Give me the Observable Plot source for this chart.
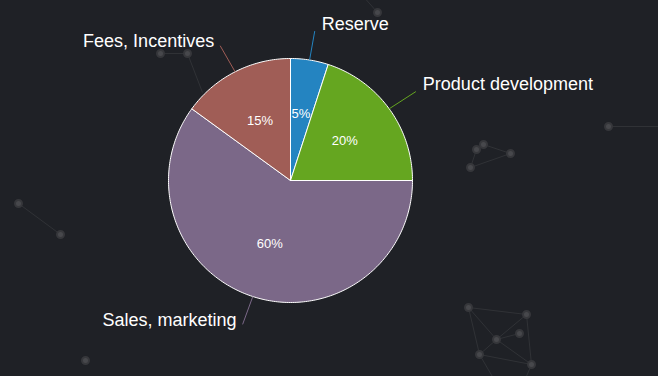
<!DOCTYPE html>
<html><head><meta charset="utf-8">
<script src="https://cdn.jsdelivr.net/npm/d3@7"></script>
<script src="https://cdn.jsdelivr.net/npm/@observablehq/plot@0.6"></script>
<style>
html,body{margin:0;padding:0;background:#1f2126;overflow:hidden;}
#chart svg{display:block;}
</style></head><body><div id="chart"></div>
<script>
// ---- chart data ----
const labels = ["Reserve", "Product development", "Sales, marketing", "Fees, Incentives"];
const values = [5, 20, 60, 15];
const colors = ["#2484c1", "#65a620", "#7b6888", "#a05d56"];

// ---- decorative background network (pixel coordinates) ----
const nodeX = [160, 187, 18, 60, 85, 608, 476, 483, 510, 470, 468, 526, 519, 496, 479, 531, 377];
const nodeY = [53, 53, 203, 234, 360, 126, 149, 144, 153, 167, 307, 314, 333, 339, 354, 364, 12];
const linkFrom = [[160,53],[187,53],[18,203],[608,126],[483,144],[470,167],[476,149],[468,307],[468,307],[468,307],[526,314],[526,314],[519,333],[496,339],[496,339],[479,354],[479,354],[531,364],[377,12]];
const linkTo   = [[187,53],[202,92],[60,234],[670,126],[510,153],[510,153],[470,167],[526,314],[479,354],[496,339],[496,339],[531,364],[496,339],[479,354],[531,364],[531,364],[500,390],[520,390],[362,-5]];

// ---- layout ----
const W = 658, H = 376, cx = 290, cy = 180, R = 122;
const toX = px => (px - cx) / R, toY = py => (cy - py) / R;

const arcs = d3.pie().sort(null)(values);

// slice outlines computed from pie angles
const slicePts = [];
arcs.forEach((a, i) => {
  slicePts.push({i, x: 0, y: 0, c: colors[i]});
  const n = Math.max(2, Math.ceil((a.endAngle - a.startAngle) / (Math.PI / 180)));
  for (let k = 0; k <= n; k++) {
    const t = a.startAngle + (a.endAngle - a.startAngle) * k / n;
    slicePts.push({i, x: Math.sin(t), y: Math.cos(t), c: colors[i]});
  }
  slicePts.push({i, x: 0, y: 0, c: colors[i]});
});

const mids = arcs.map((a, i) => {
  const m = (a.startAngle + a.endAngle) / 2;
  return {i, m, label: labels[i], pct: values[i] + "%", c: colors[i],
          ix: 0.55 * Math.sin(m), iy: 0.55 * Math.cos(m),
          x1: Math.sin(m), y1: Math.cos(m),
          x2: 1.27 * Math.sin(m), y2: 1.24 * Math.cos(m),
          right: Math.sin(m) >= 0};
});

const links = linkFrom.map((f, k) => ({x1: toX(f[0]), y1: toY(f[1]), x2: toX(linkTo[k][0]), y2: toY(linkTo[k][1])}));
const nodes = nodeX.map((x, k) => ({x: toX(x), y: toY(nodeY[k])}));

const font = "Arial, 'Liberation Sans', Helvetica, sans-serif";

const chart = Plot.plot({
  width: W, height: H,
  margin: 0,
  x: {domain: [-cx / R, (W - cx) / R], axis: null},
  y: {domain: [-(H - cy) / R, cy / R], axis: null},
  color: {type: "identity"},
  style: {background: "#1f2126", fontFamily: font, overflow: "hidden"},
  marks: [
    Plot.link(links, {x1: "x1", y1: "y1", x2: "x2", y2: "y2", stroke: "#303236", strokeWidth: 1, clip: true}),
    Plot.dot(nodes, {x: "x", y: "y", r: 3.5, fill: "#47484c", stroke: "#36373b", strokeWidth: 2, clip: true}),
    Plot.line(slicePts, {x: "x", y: "y", z: "i", fill: "c", stroke: "#ffffff", strokeWidth: 1, strokeLinejoin: "round", curve: "linear"}),
    Plot.link(mids, {x1: "x1", y1: "y1", x2: "x2", y2: "y2", stroke: "c", strokeWidth: 1}),
    Plot.text(mids, {x: "ix", y: "iy", text: "pct", fill: "#ffffff", fontSize: 13}),
    Plot.text(mids.filter(d => d.right), {x: "x2", y: "y2", text: "label", fill: "#ffffff", fontSize: 18, textAnchor: "start", dx: 7, dy: -7}),
    Plot.text(mids.filter(d => !d.right), {x: "x2", y: "y2", text: "label", fill: "#ffffff", fontSize: 18, textAnchor: "end", dx: -6, dy: -4})
  ]
});
document.getElementById("chart").appendChild(chart);
</script></body></html>
